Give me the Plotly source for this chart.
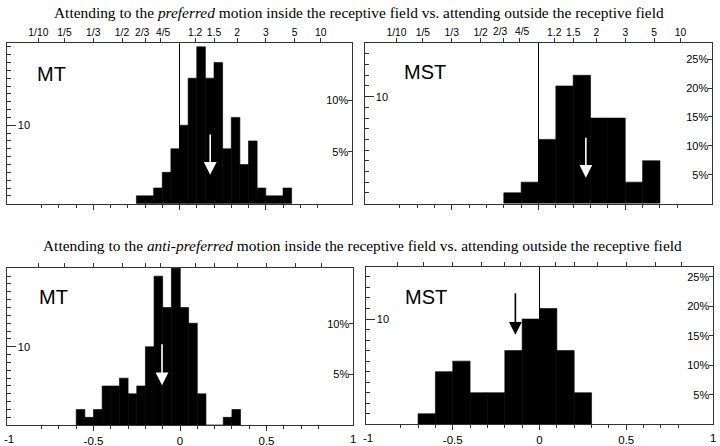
import plotly.graph_objects as go

# ---------------- data ----------------
pref_mt_start, pref_mt_width = -0.25, 0.05
pref_mt_counts = [1, 1, 2, 4, 7, 10, 16, 20, 16, 18, 7, 11, 5, 8, 2, 1, 1, 2]
pref_mst_start, pref_mst_width = -0.2, 0.1
pref_mst_counts = [1, 2, 6, 11, 12, 8, 8, 2, 4]
anti_mt_start, anti_mt_width = -0.6, 0.05
anti_mt_counts = [2, 1, 2, 5, 5, 6, 4, 5, 10, 19, 15, 20, 15, 13, 4, 0, 0, 1, 2]
anti_mst_start, anti_mst_width = -0.7, 0.1
anti_mst_counts = [1, 5, 6, 3, 3, 7, 10, 11, 7, 3]

mean_index = [0.178, 0.273, -0.104, -0.139]          # arrow positions
arrow_from = [9.0, 6.3, 10.5, 12.6]                   # arrow tail (count units)
arrow_to = [3.7, 2.4, 5.1, 8.5]                       # arrow head (count units)

ratio_values = [1/10, 1/5, 1/3, 1/2, 2/3, 4/5, 1.2, 1.5, 2, 3, 5, 10]
ratio_labels = ["1/10", "1/5", "1/3", "1/2", "2/3", "4/5", "1.2", "1.5", "2", "3", "5", "10"]
crowded_ratio_labels = {"2/3": -3, "4/5": 3}          # labels nudged apart (px), as in the original
index_ticks = [-1, -0.5, 0, 0.5, 1]
index_labels = ["-1", "-0.5", "0", "0.5", "1"]

titles = [
    "Attending to the <i>preferred</i> motion inside the receptive field vs. attending outside the receptive field",
    "Attending to the <i>anti-preferred</i> motion inside the receptive field vs. attending outside the receptive field",
]

# ---------------- layout helpers ----------------
W, H = 720, 446
SANS = "Liberation Sans, Arial, sans-serif"
SERIF = "Liberation Serif, Times New Roman, serif"
LINE = "#333333"
XR = [-1, 1]

panels = [
    dict(label="MT", start=pref_mt_start, width=pref_mt_width, counts=pref_mt_counts,
         px=(7, 352), py=(43.3, 203.7), ymax=20.45, pct=[5, 10], acol="white",
         top_lab=True, bot_lab=False, lab_pos=(0.081, 0.81)),
    dict(label="MST", start=pref_mst_start, width=pref_mst_width, counts=pref_mst_counts,
         px=(365, 712), py=(42.7, 203.5), ymax=15.05, pct=[5, 10, 15, 20, 25], acol="white",
         top_lab=True, bot_lab=False, lab_pos=(0.106, 0.82)),
    dict(label="MT", start=anti_mt_start, width=anti_mt_width, counts=anti_mt_counts,
         px=(7, 353), py=(267.5, 425.2), ymax=20.1, pct=[5, 10], acol="white",
         top_lab=False, bot_lab=True, lab_pos=(0.086, 0.815)),
    dict(label="MST", start=anti_mst_start, width=anti_mst_width, counts=anti_mst_counts,
         px=(366, 713), py=(266.7, 424.3), ymax=14.97, pct=[5, 10, 15, 20, 25], acol="black",
         top_lab=False, bot_lab=True, lab_pos=(0.107, 0.81)),
]

ratio_pos = [(r - 1) / (r + 1) for r in ratio_values]
axis_ratio_text = ["" if t in crowded_ratio_labels else t for t in ratio_labels]
inner_ticks = [v for v in index_ticks if abs(v) < 1]
inner_labels = [t for v, t in zip(index_ticks, index_labels) if abs(v) < 1]
end_ticks = [(v, t) for v, t in zip(index_ticks, index_labels) if abs(v) >= 1]

fig = go.Figure()
layout = dict(
    width=W, height=H, margin=dict(l=0, r=0, t=0, b=0),
    paper_bgcolor="white", plot_bgcolor="white", showlegend=False,
    annotations=[], shapes=[],
)

def akey(prefix, n):
    return prefix + ("axis" if n == 1 else "axis%d" % n)

for p, pn in enumerate(panels):
    nm, nt = 2 * p + 1, 2 * p + 2
    xm, xt = "x" if nm == 1 else "x%d" % nm, "x%d" % nt
    ym, yt = "y" if nm == 1 else "y%d" % nm, "y%d" % nt
    xdom = [pn["px"][0] / W, pn["px"][1] / W]
    ydom = [1 - pn["py"][1] / H, 1 - pn["py"][0] / H]
    n_total = sum(pn["counts"])

    centers = [pn["start"] + pn["width"] * (i + 0.5) for i in range(len(pn["counts"]))]
    fig.add_trace(go.Bar(x=centers, y=pn["counts"], width=[pn["width"]] * len(centers),
                         marker=dict(color="black", line=dict(width=0.6, color="black")),
                         xaxis=xm, yaxis=ym, hoverinfo="skip"))
    # invisible traces so the secondary (ratio / percent) axes are drawn
    fig.add_trace(go.Scatter(x=[0], y=[0], mode="markers", marker=dict(opacity=0),
                             xaxis=xt, yaxis=ym, hoverinfo="skip"))
    fig.add_trace(go.Scatter(x=[0], y=[0], mode="markers", marker=dict(opacity=0),
                             xaxis=xm, yaxis=yt, hoverinfo="skip"))

    layout[akey("x", nm)] = dict(
        domain=xdom, range=XR, anchor=ym, side="bottom",
        showline=True, linecolor=LINE, linewidth=1, showgrid=False, zeroline=False,
        tickmode="array", tickvals=inner_ticks, ticktext=inner_labels, tickangle=0,
        ticks="outside", ticklen=5, tickcolor=LINE, tickwidth=1,
        showticklabels=pn["bot_lab"], tickfont=dict(family=SANS, size=11.5, color="black"),
        ticklabeloverflow="allow",
        minor=dict(tickmode="linear", tick0=0, dtick=0.1, ticks="outside", ticklen=3,
                   tickcolor=LINE, showgrid=False),
        fixedrange=True,
    )
    layout[akey("x", nt)] = dict(
        overlaying=xm, range=XR, anchor=ym, side="top",
        showline=True, linecolor=LINE, linewidth=1, showgrid=False, zeroline=False,
        tickmode="array", tickvals=ratio_pos, ticktext=axis_ratio_text, tickangle=0,
        ticks="outside", ticklen=4, tickcolor=LINE, tickwidth=1, ticklabelstandoff=-2,
        showticklabels=pn["top_lab"], tickfont=dict(family=SANS, size=10.3, color="black"),
        fixedrange=True,
    )
    layout[akey("y", nm)] = dict(
        domain=ydom, range=[0, pn["ymax"]], anchor=xm, side="left",
        showline=True, linecolor=LINE, linewidth=1, showgrid=False, zeroline=False,
        tickmode="array", tickvals=[10], ticktext=["10"],
        ticks="inside", ticklen=9, tickcolor=LINE, tickwidth=1,
        ticklabelposition="inside", ticklabelstandoff=1,
        tickfont=dict(family=SANS, size=11, color="black"),
        minor=dict(tickmode="linear", tick0=0, dtick=1, ticks="inside", ticklen=4,
                   tickcolor=LINE, showgrid=False),
        fixedrange=True,
    )
    layout[akey("y", nt)] = dict(
        overlaying=ym, range=[0, pn["ymax"] / n_total * 100], anchor=xm, side="right",
        showline=True, linecolor=LINE, linewidth=1, showgrid=False, zeroline=False,
        tickmode="array", tickvals=pn["pct"], ticktext=["%d%%" % v for v in pn["pct"]],
        ticks="inside", ticklen=4, tickcolor=LINE, tickwidth=1,
        ticklabelposition="inside", ticklabelstandoff=-1,
        tickfont=dict(family=SANS, size=11, color="black"),
        fixedrange=True,
    )

    # crowded ratio labels, nudged apart like in the original figure
    if pn["top_lab"]:
        for r, t in zip(ratio_values, ratio_labels):
            if t in crowded_ratio_labels:
                layout["annotations"].append(dict(
                    x=(r - 1) / (r + 1), y=1, xref=xm, yref=ym + " domain", text=t,
                    showarrow=False, xanchor="center", yanchor="middle",
                    xshift=crowded_ratio_labels[t], yshift=11,
                    font=dict(family=SANS, size=10.3, color="black")))

    # end labels (-1, 1) of the index axis, which Plotly drops at the frame corners
    if pn["bot_lab"]:
        for v, t in end_ticks:
            layout["annotations"].append(dict(
                x=v, y=0, xref=xm, yref=ym + " domain", text=t, showarrow=False,
                xanchor="center", yanchor="middle", yshift=-13.5, xshift=2 if v < 0 else 0,
                font=dict(family=SANS, size=11.5, color="black")))

    # vertical reference line at index 0
    layout["shapes"].append(dict(type="line", xref=xm, yref=ym + " domain",
                                 x0=0, x1=0, y0=0, y1=1, layer="below",
                                 line=dict(color="black", width=1)))
    # mean arrow
    layout["annotations"].append(dict(
        x=mean_index[p], y=arrow_to[p], ax=mean_index[p], ay=arrow_from[p],
        xref=xm, yref=ym, axref=xm, ayref=ym, text="", showarrow=True,
        arrowhead=2, arrowsize=1.6, arrowwidth=1.6, arrowcolor=pn["acol"], standoff=0))
    # area label
    layout["annotations"].append(dict(
        x=pn["lab_pos"][0], y=pn["lab_pos"][1], xref=xm + " domain", yref=ym + " domain",
        text=pn["label"], showarrow=False, xanchor="left", yanchor="middle",
        font=dict(family=SANS, size=20, color="black")))

layout["annotations"].append(dict(x=359 / W, y=1 - 13 / H, xref="paper", yref="paper",
                                  text=titles[0], showarrow=False, xanchor="center", yanchor="middle",
                                  font=dict(family=SERIF, size=15.4, color="black")))
layout["annotations"].append(dict(x=362 / W, y=1 - 245 / H, xref="paper", yref="paper",
                                  text=titles[1], showarrow=False, xanchor="center", yanchor="middle",
                                  font=dict(family=SERIF, size=15.4, color="black")))

fig.update_layout(**layout)
fig.write_html("out.html", config={"displayModeBar": False},
               post_script="document.body.style.margin='0';")
